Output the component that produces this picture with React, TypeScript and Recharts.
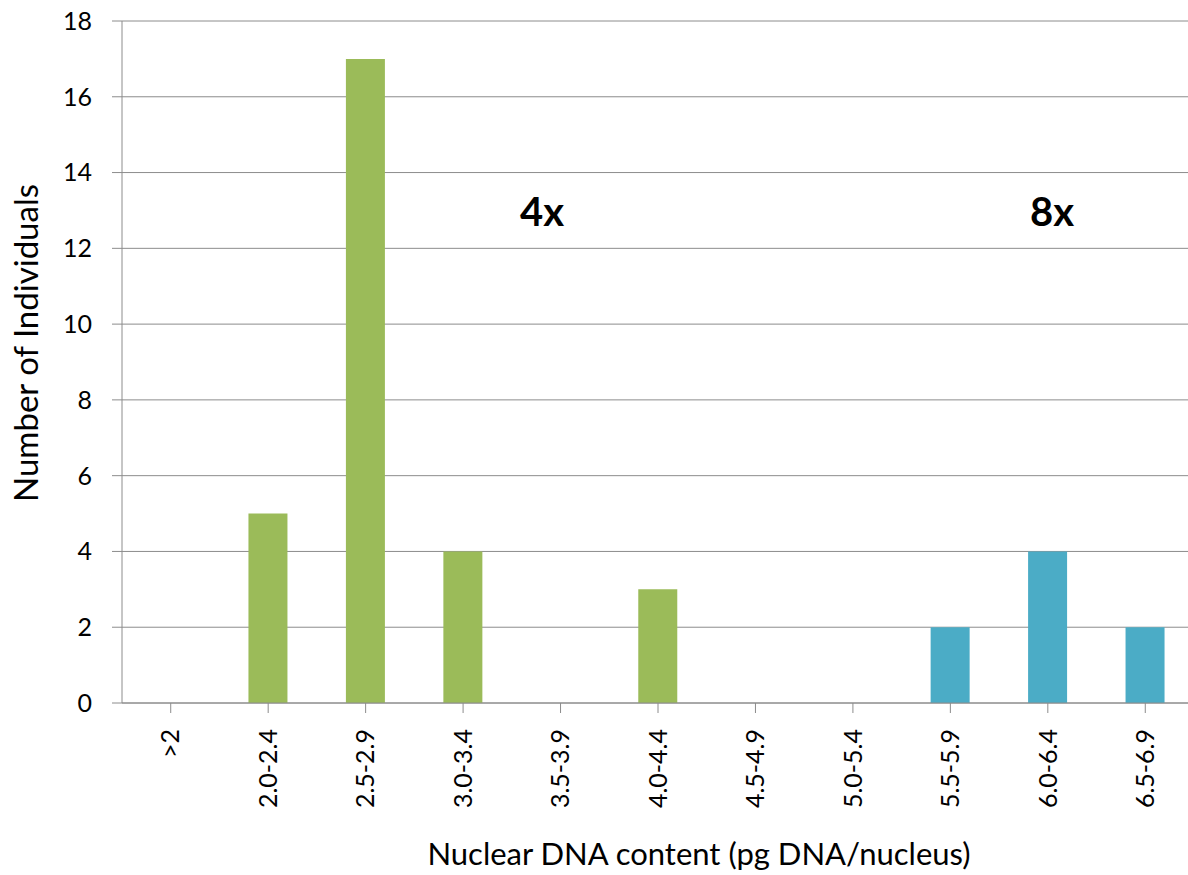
import React from 'react';
import { BarChart, Bar, XAxis, YAxis, CartesianGrid, Cell, Label } from 'recharts';

const categories = ['>2', '2.0-2.4', '2.5-2.9', '3.0-3.4', '3.5-3.9', '4.0-4.4', '4.5-4.9', '5.0-5.4', '5.5-5.9', '6.0-6.4', '6.5-6.9'];
const counts = [0, 5, 17, 4, 0, 3, 0, 0, 2, 4, 2];
const ploidy = ['4x', '4x', '4x', '4x', '4x', '4x', '4x', '4x', '8x', '8x', '8x'];
const yTicks = [0, 2, 4, 6, 8, 10, 12, 14, 16, 18];

const colors: Record<string, string> = { '4x': '#9BBB59', '8x': '#4BACC6' };
const font = 'Lato, "Open Sans", sans-serif';

const data = categories.map((c, i) => ({ range: c, count: counts[i], group: ploidy[i] }));

const XTick = (props: any) => {
  const { x, y, payload } = props;
  return (
    <text
      x={x}
      y={y + 14}
      transform={`rotate(-90, ${x}, ${y + 14})`}
      textAnchor="end"
      dy="0.35em"
      fontSize={25}
      fontFamily={font}
      fill="#000"
    >
      {payload.value}
    </text>
  );
};

const App: React.FC = () => {
  return (
    <div style={{ position: 'absolute', left: 0, top: 0, width: 1188, height: 875, overflow: 'hidden', background: '#fff', fontFamily: font }}>
      <BarChart
        width={1194}
        height={875}
        data={data}
        margin={{ top: 21, right: 0, bottom: 0, left: 0 }}
        barSize={39}
      >
        <CartesianGrid vertical={false} stroke="#8c8c8c" strokeWidth={1} />
        <XAxis
          dataKey="range"
          height={172}
          tick={<XTick />}
          tickLine={{ stroke: '#8c8c8c' }}
          axisLine={{ stroke: '#8c8c8c' }}
          tickSize={10}
          interval={0}
        >
          <Label
            value="Nuclear DNA content (pg DNA/nucleus)"
            position="insideBottom"
            offset={10}
            dx={41}
            fontSize={31}
            fontFamily={font}
            fill="#000"
          />
        </XAxis>
        <YAxis
          width={122}
          domain={[0, 18]}
          ticks={yTicks}
          interval={0}
          tickSize={10}
          tickMargin={20}
          tick={{ fontSize: 25, fontFamily: font, fill: '#000' }}
          tickLine={{ stroke: '#8c8c8c' }}
          axisLine={{ stroke: '#8c8c8c' }}
        >
          <Label
            value="Number of Individuals"
            angle={-90}
            position="insideLeft"
            offset={26}
            dy={-19}
            fontSize={33}
            fontFamily={font}
            fill="#000"
            style={{ textAnchor: 'middle' }}
          />
        </YAxis>
        <Bar dataKey="count" isAnimationActive={false}>
          {data.map((d, i) => (
            <Cell key={`c-${i}`} fill={colors[d.group]} />
          ))}
        </Bar>
      </BarChart>
      <div style={{ position: 'absolute', left: 520, top: 187, fontSize: 40, fontWeight: 'bold', color: '#000', lineHeight: 1.2 }}>4x</div>
      <div style={{ position: 'absolute', left: 1030, top: 187, fontSize: 40, fontWeight: 'bold', color: '#000', lineHeight: 1.2 }}>8x</div>
    </div>
  );
};

export default App;
